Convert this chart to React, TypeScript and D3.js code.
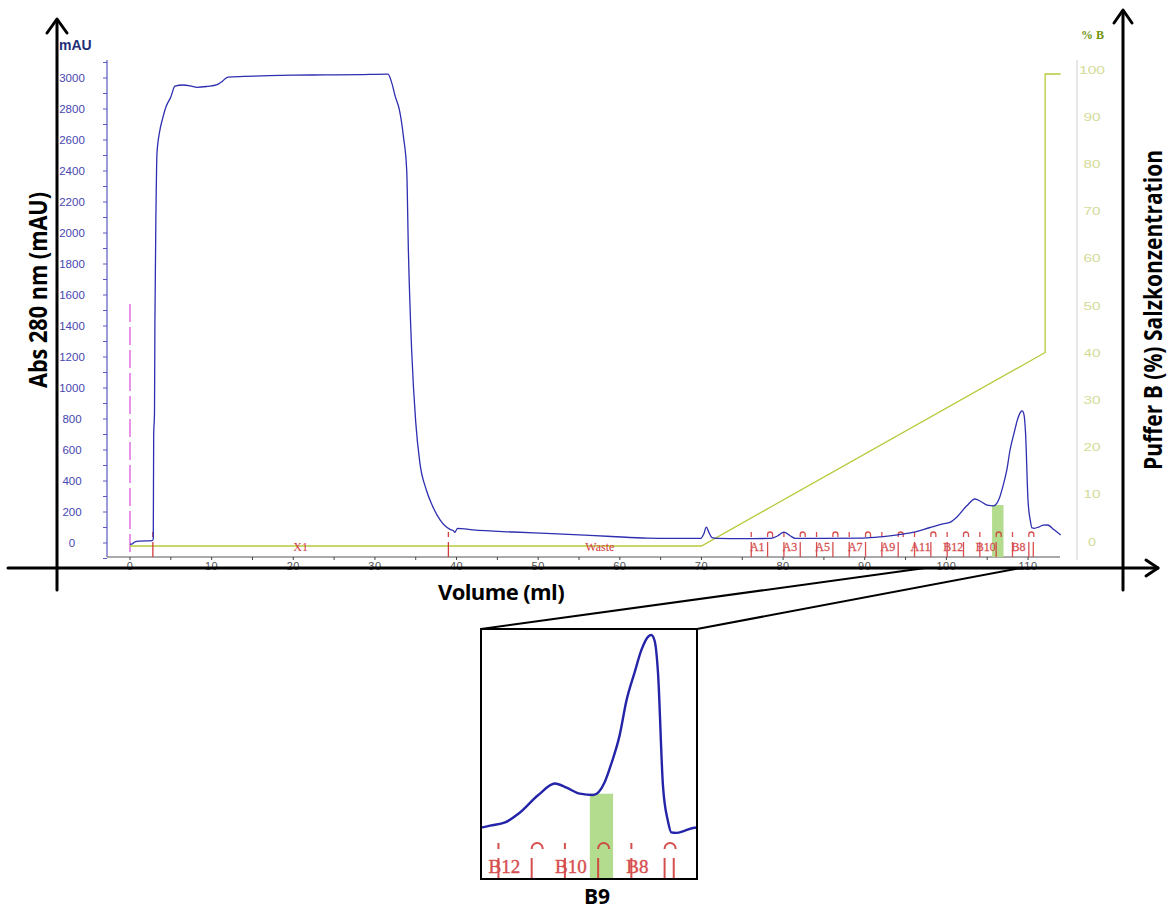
import * as d3 from 'd3';

// UV 280 nm trace (ml, mAU)
const volume = [
  0, 0.3, 0.6, 1.2, 2.7, 2.85, 2.9, 3.0, 3.05, 3.2, 3.3, 3.6, 4.0, 4.4, 5.0, 5.5, 6.5, 7.5, 8.2, 9.5,
  10.6, 11.2, 12.0, 14, 17, 20, 24, 28, 31.6, 32.0, 32.5, 33.0, 33.5, 33.9, 34.1, 34.5, 35.0, 35.5,
  36.3, 37.0, 38.0, 39.2, 39.6, 39.8, 40.1, 42, 47, 51, 55, 59, 63.4, 66, 69.9, 70.3, 70.6, 70.9,
  71.3, 72, 75, 78.5, 79.3, 80.1, 80.9, 81.5, 85, 89.8, 92, 94, 96, 98, 99.6, 100.5, 101.3, 102.5,
  103.5, 104.2, 105, 105.8, 106.5, 106.9, 107.4, 107.8, 108.3, 108.7, 109.1, 109.3, 109.5, 109.7,
  110.0, 110.3, 110.5, 110.8, 111.3, 111.9, 112.4, 113.2, 114,
];
const absorbance = [
  -8, -5, 8, 12, 15, 25, 690, 840, 1420, 2210, 2510, 2645, 2740, 2813, 2877, 2948, 2955, 2948, 2940, 2946,
  2955, 2974, 3006, 3010, 3015, 3018, 3020, 3022, 3025, 2980, 2880, 2794, 2620, 2400, 1890, 1245, 780, 520,
  342, 245, 148, 88, 80, 68, 95, 85, 71, 62, 52, 42, 32, 30, 30, 60, 103, 70,
  35, 30, 28, 30, 45, 70, 45, 30, 30, 32, 40, 52, 70, 100, 123, 135, 168, 240,
  284, 268, 245, 240, 290, 361, 470, 600, 710, 794, 845, 852, 830, 710,
  277, 140, 97, 95, 103, 115, 116, 85, 52,
];

// salt gradient, % buffer B
const gradVolume = [0, 70, 112.1, 112.1, 114];
const gradPercent = [0, 0, 41, 100, 100];

// fraction collector
const fractionVolumes = [
  76.1, 78.1, 80.1, 82.1, 84.1, 86.1, 88.1, 90.1, 92.1, 94.1, 96.1, 98.1, 100.1, 102.1, 104.1, 106.1, 108.1, 110.1,
];
const fractionLabels = [
  'A1', 'A2', 'A3', 'A4', 'A5', 'A6', 'A7', 'A8', 'A9', 'A10', 'A11', 'A12', 'B12', 'B11', 'B10', 'B9', 'B8', 'B7',
];
const fractionEnd = 110.65;
const zoneVolumes = [2.8, 39];
const zoneLabels = ['X1', 'Waste'];
const zoneEnd = 76.1;
const injection = 0;
const pooled = [105.6, 107.0];
const pooledLevel = 245;

const leftTicks = [0, 200, 400, 600, 800, 1000, 1200, 1400, 1600, 1800, 2000, 2200, 2400, 2600, 2800, 3000];
const minorTicks = d3.range(-100, 3101, 100);
const xTicks = [0, 10, 20, 30, 40, 50, 60, 70, 80, 90, 100, 110];
const xMinor = d3.range(0, 111, 5);
const rightTicks = [0, 10, 20, 30, 40, 50, 60, 70, 80, 90, 100];

const RED = '#d23c3c';
const BLUE = '#2e2eb0';

type Lin = d3.ScaleLinear<number, number>;

function Fractions({ x, tickTop, tickBot, lineTop, lineBot, labelY, fs, archW, sw }: {
  x: Lin; tickTop: number; tickBot: number; lineTop: number; lineBot: number; labelY: number;
  fs: number; archW: number; sw: number;
}) {
  const r = archW / 2;
  const all = [...fractionVolumes, fractionEnd];
  return (
    <g stroke={RED} strokeWidth={sw} fill="none" opacity={0.9}>
      {all.map((v, i) => (
        <line key={'l' + i} x1={x(v)} x2={x(v)} y1={lineTop} y2={lineBot} />
      ))}
      {fractionVolumes.map((v, i) =>
        i % 2 === 0 ? (
          <line key={'t' + i} x1={x(v)} x2={x(v)} y1={tickTop} y2={tickBot} />
        ) : (
          <path
            key={'a' + i}
            d={`M${x(v)},${tickBot} V${tickTop + r} A${r},${r} 0 0 1 ${x(v) + archW},${tickTop + r} V${tickBot}`}
          />
        ),
      )}
      {fractionVolumes.map((v, i) =>
        i % 2 === 0 ? (
          <text key={'s' + i} x={x(v) + 6} y={labelY} fill={RED} stroke={RED} strokeWidth={sw * 0.2}
            textAnchor="middle" fontFamily="'Liberation Serif', serif" fontSize={fs}>
            {fractionLabels[i]}
          </text>
        ) : null,
      )}
    </g>
  );
}

export default function App() {
  const W = 1168;
  const H = 911;

  const x = d3.scaleLinear().domain([0, 110]).range([130, 1028]);
  const y = d3.scaleLinear().domain([0, 3000]).range([543, 78]);
  const yR = d3.scaleLinear().domain([0, 100]).range([546, 74]);

  // zoomed inset
  const xi = d3.scaleLinear().domain([99.05, 112.05]).range([481, 697]);
  const yi = d3.scaleLinear().domain([240, 852]).range([795, 635]);

  const pts = volume.map((v, i) => [v, absorbance[i]] as [number, number]);
  const uv = d3.line<[number, number]>().x((d) => x(d[0])).y((d) => y(d[1])).curve(d3.curveMonotoneX);
  const uvInset = d3.line<[number, number]>().x((d) => xi(d[0])).y((d) => yi(d[1])).curve(d3.curveMonotoneX);
  const grad = d3
    .line<number>()
    .x((d) => x(d))
    .y((_, i) => yR(gradPercent[i]));

  const axisFont = "'Liberation Sans', Arial, sans-serif";
  const boldFont = "'Open Sans', sans-serif";

  return (
    <svg width={W} height={H} style={{ position: 'absolute', left: 0, top: 0, background: '#fff' }}>
      <defs>
        <clipPath id="inset-clip">
          <rect x={481} y={629} width={216} height={250} />
        </clipPath>
      </defs>
      <rect width={W} height={H} fill="#fff" />

      {/* left mAU axis */}
      <line x1={107} x2={107} y1={60} y2={557} stroke="#5a5ac4" strokeWidth={1.2} />
      {minorTicks.map((t) => (
        <line key={t} x1={103} x2={107} y1={y(t)} y2={y(t)} stroke="#5a5ac4" strokeWidth={1} />
      ))}
      {leftTicks.map((t) => (
        <text key={t} x={72} y={y(t)} dy="0.35em" textAnchor="middle" fontFamily={axisFont}
          fontSize={11.5} fill="#4646b0">
          {t}
        </text>
      ))}
      <text x={59} y={50} fontFamily={axisFont} fontWeight="bold" fontSize={14} fill="#1f2f78">mAU</text>

      {/* right %B axis */}
      <line x1={1077} x2={1077} y1={60} y2={560} stroke="#cfcfcf" strokeWidth={1} />
      {rightTicks.map((t) => (
        <text key={t} x={1092} y={yR(t) - 4} dy="0.35em" textAnchor="middle" fontFamily={axisFont}
          fontSize={10} fill="#d3db98" textLength={String(t).length * 9 - 1} lengthAdjust="spacingAndGlyphs">
          {t}
        </text>
      ))}
      <text x={1081} y={39} fontFamily="'Liberation Serif', serif" fontWeight="bold" fontSize={12}
        fill="#6f9410">
        % B
      </text>

      {/* x axis */}
      <line x1={107} x2={1060} y1={557} y2={557} stroke="#555" strokeWidth={1} />
      {xMinor.map((t) => (
        <line key={t} x1={x(t)} x2={x(t)} y1={557} y2={560} stroke="#444" strokeWidth={1} />
      ))}
      {xTicks.map((t) => (
        <text key={t} x={x(t)} y={570} textAnchor="middle" fontFamily={axisFont} fontSize={11}
          letterSpacing={0.5} fill="#555">
          {t}
        </text>
      ))}

      {/* injection mark */}
      <line x1={x(injection)} x2={x(injection)} y1={304} y2={557} stroke="#e070e0" strokeWidth={1.5}
        strokeDasharray="18 5" />

      {/* pooled fraction */}
      <rect x={x(pooled[0])} width={x(pooled[1]) - x(pooled[0])} y={y(pooledLevel)}
        height={557 - y(pooledLevel)} fill="#b4dc8e" />

      {/* gradient */}
      <path d={grad(gradVolume) ?? ''} fill="none" stroke="#b8c93a" strokeWidth={1.3} />

      {/* zones X1 / Waste */}
      <g stroke={RED} strokeWidth={1.3}>
        {zoneVolumes.map((v) => (
          <g key={v}>
            <line x1={x(v)} x2={x(v)} y1={532} y2={537} />
            <line x1={x(v)} x2={x(v)} y1={542} y2={557} />
          </g>
        ))}
      </g>
      {zoneLabels.map((l, i) => {
        const end = i + 1 < zoneVolumes.length ? zoneVolumes[i + 1] : zoneEnd;
        return (
          <text key={l} x={x((zoneVolumes[i] + end) / 2)} y={551} textAnchor="middle"
            fontFamily="'Liberation Serif', serif" fontSize={12} fill={RED}>
            {l}
          </text>
        );
      })}

      <Fractions x={x} tickTop={532} tickBot={537} lineTop={542} lineBot={557} labelY={551} fs={12}
        archW={5} sw={1.3} />

      {/* UV trace */}
      <path d={uv(pts) ?? ''} fill="none" stroke={BLUE} strokeWidth={1.3} />

      {/* big black axes */}
      <g stroke="#000" strokeWidth={3} fill="none" strokeLinecap="round" strokeLinejoin="round">
        <line x1={57} x2={57} y1={590} y2={20} />
        <polyline points="47,33 57,19 67,33" />
        <line x1={8} x2={1158} y1={568} y2={568} />
        <polyline points="1146,560 1158,568 1146,576" />
        <line x1={1123} x2={1123} y1={590} y2={11} />
        <polyline points="1114,23 1123,10 1132,23" />
      </g>

      <text x={47} y={290} textAnchor="middle" transform="rotate(-90 47 290)" fontFamily={boldFont}
        fontWeight="bold" fontSize={25} textLength={196} lengthAdjust="spacingAndGlyphs">
        Abs 280 nm (mAU)
      </text>
      <text x={1162} y={310} textAnchor="middle" transform="rotate(-90 1162 310)" fontFamily={boldFont}
        fontWeight="bold" fontSize={25} textLength={320} lengthAdjust="spacingAndGlyphs">
        Puffer B (%) Salzkonzentration
      </text>
      <text x={501} y={600} textAnchor="middle" fontFamily={boldFont} fontWeight="bold" fontSize={22}
        letterSpacing={-0.6}>
        Volume (ml)
      </text>

      {/* zoom connectors */}
      <g stroke="#000" strokeWidth={2}>
        <line x1={481} y1={629} x2={925} y2={568} />
        <line x1={697} y1={629} x2={1021} y2={568} />
      </g>

      {/* inset */}
      <rect x={481} y={629} width={216} height={250} fill="#fff" />
      <g clipPath="url(#inset-clip)">
        <rect x={xi(pooled[0])} width={xi(pooled[1]) - xi(pooled[0])} y={yi(pooledLevel)}
          height={879 - yi(pooledLevel)} fill="#b4dc8e" />
        <Fractions x={xi} tickTop={843} tickBot={849} lineTop={858} lineBot={880} labelY={873} fs={19}
          archW={11} sw={2} />
        <path d={uvInset(pts) ?? ''} fill="none" stroke="#2424a8" strokeWidth={2.4} />
      </g>
      <rect x={481} y={629} width={216} height={250} fill="none" stroke="#000" strokeWidth={2} />
      <text x={597} y={904} textAnchor="middle" fontFamily={boldFont} fontWeight="bold" fontSize={21}>
        B9
      </text>
    </svg>
  );
}
